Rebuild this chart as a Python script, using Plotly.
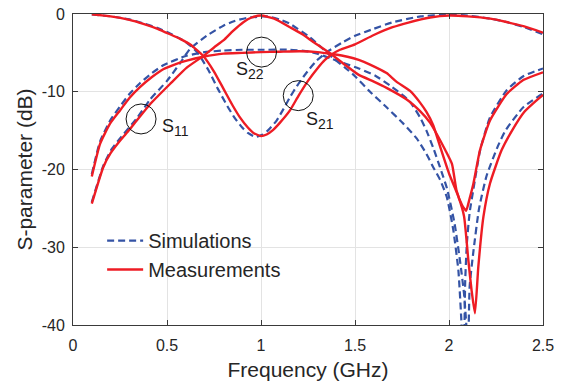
import plotly.graph_objects as go

# ---------------- data ----------------
x_ticks = [0, 0.5, 1, 1.5, 2, 2.5]
x_tick_labels = ["0", "0.5", "1", "1.5", "2", "2.5"]
y_ticks = [0, -10, -20, -30, -40]
y_tick_labels = ["0", "-10", "-20", "-30", "-40"]

# S21 measured / simulated
f_s21_meas = [0.1, 0.2, 0.3, 0.374, 0.45, 0.516, 0.57, 0.622, 0.693, 0.75, 0.8, 0.85, 0.888, 0.93, 0.96,
              1.0, 1.03, 1.06, 1.1, 1.154, 1.2, 1.25, 1.3, 1.34, 1.376, 1.42, 1.5, 1.6, 1.7, 1.784, 1.9,
              2.0, 2.1, 2.22, 2.3, 2.4, 2.5]
s21_meas = [-0.05, -0.3, -0.75, -1.26, -1.9, -2.6, -3.2, -3.9, -5.4, -7.4, -9.6, -11.8, -13.3, -14.6, -15.3,
            -15.7, -15.5, -15.0, -14.0, -12.4, -10.5, -8.6, -7.0, -5.9, -5.2, -4.6, -3.9, -2.7, -1.7, -1.1, -0.45,
            -0.2, -0.3, -0.6, -1.0, -1.6, -2.4]
f_s21_sim = [0.1, 0.2, 0.3, 0.374, 0.45, 0.516, 0.6, 0.66, 0.72, 0.77, 0.82, 0.858, 0.9, 0.93, 0.97,
             1.01, 1.04, 1.083, 1.12, 1.154, 1.19, 1.225, 1.26, 1.296, 1.35, 1.43, 1.5, 1.6, 1.695, 1.85,
             1.99, 2.1, 2.22, 2.3, 2.4, 2.5]
s21_sim = [-0.05, -0.3, -0.7, -1.2, -1.8, -2.5, -3.6, -4.9, -7.2, -9.6, -11.8, -13.3, -14.6, -15.3, -15.8,
           -15.5, -14.9, -13.7, -12.2, -10.7, -9.3, -8.1, -7.0, -6.0, -4.9, -3.7, -2.8, -1.9, -1.1, -0.3,
           -0.1, -0.2, -0.6, -1.0, -1.7, -2.6]

# S22 measured / simulated
f_s22_meas = [0.1, 0.144, 0.197, 0.25, 0.3, 0.356, 0.42, 0.48, 0.54, 0.605, 0.693, 0.8, 0.9, 1.0, 1.1, 1.207,
              1.3, 1.376, 1.46, 1.52, 1.58, 1.668, 1.72, 1.793, 1.846, 1.88, 1.916, 1.952, 2.0, 2.05, 2.08,
              2.103, 2.12, 2.138, 2.156, 2.183, 2.218, 2.28, 2.34, 2.4, 2.466, 2.5]
s22_meas = [-20.9, -16.7, -14.1, -12.4, -10.8, -9.4, -8.1, -7.1, -6.5, -6.0, -5.5, -5.1, -5.0, -4.9, -4.85, -4.8,
            -4.9, -5.15, -5.5, -5.9, -6.5, -7.6, -8.7, -9.9, -11.4, -12.6, -14.3, -17.0, -20.5, -23.5, -26.0,
            -31.7, -35.5, -38.5, -32.5, -26.1, -21.8, -17.5, -14.8, -12.6, -11.1, -10.4]
f_s22_sim = [0.1, 0.144, 0.2, 0.25, 0.3, 0.356, 0.42, 0.48, 0.6, 0.7, 0.8, 0.9, 1.0, 1.154, 1.25, 1.3, 1.38,
             1.45, 1.52, 1.606, 1.686, 1.757, 1.793, 1.846, 1.88, 1.916, 1.952, 1.99, 2.03, 2.06, 2.08, 2.092,
             2.1, 2.11, 2.13, 2.16, 2.2, 2.26, 2.3, 2.395, 2.5]
s22_sim = [-20.6, -16.4, -13.6, -11.9, -10.3, -8.9, -7.6, -6.6, -5.4, -4.9, -4.7, -4.6, -4.6, -4.6, -4.8, -5.1,
           -5.8, -6.4, -7.0, -7.9, -9.2, -10.5, -11.3, -13.3, -15.0, -17.2, -19.7, -22.5, -27.0, -32.0, -36.0,
           -40.0, -46.0, -35.0, -30.5, -25.0, -20.8, -17.0, -15.0, -12.0, -10.2]

# S11 measured / simulated
f_s11_meas = [0.1, 0.161, 0.2, 0.25, 0.3, 0.339, 0.41, 0.516, 0.605, 0.693, 0.75, 0.8, 0.85, 0.906, 0.95, 1.0,
              1.07, 1.154, 1.22, 1.278, 1.376, 1.45, 1.518, 1.6, 1.668, 1.775, 1.846, 1.9, 1.934, 1.98, 2.016,
              2.04, 2.07, 2.091, 2.11, 2.13, 2.165, 2.218, 2.307, 2.395, 2.5]
s11_meas = [-24.4, -19.7, -17.9, -16.3, -14.9, -13.7, -11.6, -9.0, -6.9, -5.4, -4.3, -3.4, -2.2, -1.05, -0.45, -0.2,
            -0.6, -1.7, -2.6, -3.6, -5.2, -6.6, -7.8, -8.7, -9.5, -11.0, -12.5, -14.0, -15.4, -17.5, -19.3,
            -22.7, -24.6, -25.3, -23.7, -21.8, -17.5, -13.7, -10.3, -8.5, -7.5]
f_s11_sim = [0.1, 0.16, 0.2, 0.25, 0.34, 0.41, 0.5, 0.57, 0.622, 0.711, 0.8, 0.86, 0.924, 1.03, 1.1, 1.154, 1.26,
             1.33, 1.38, 1.447, 1.5, 1.58, 1.668, 1.757, 1.828, 1.88, 1.916, 1.952, 1.988, 2.023, 2.05, 2.067,
             2.078, 2.086, 2.095, 2.11, 2.13, 2.165, 2.218, 2.307, 2.395, 2.5]
s11_sim = [-24.2, -19.6, -17.6, -16.0, -13.4, -11.0, -8.6, -6.3, -4.5, -2.8, -1.5, -0.9, -0.5, -0.3, -0.7, -1.26,
           -3.0, -4.5, -5.6, -6.9, -8.0, -10.0, -12.0, -14.1, -16.0, -18.0, -19.7, -21.3, -23.5, -27.8, -33.0,
           -40.0, -46.0, -34.5, -29.5, -25.5, -22.5, -17.6, -13.3, -9.8, -8.0, -7.0]

# marker circles and labels
circle_f = [0.362, 1.003, 1.198]
circle_db = [-13.5, -4.9, -10.5]
label_main = ["S", "S", "S"]
label_sub = ["11", "22", "21"]
label_f = [0.462, 0.858, 1.23]
label_db = [-14.6, -7.3, -13.7]

# ---------------- styling ----------------
RED = "#ee1c24"
BLUE = "#3453a5"
FONT = "Liberation Sans, Arial, Helvetica, sans-serif"
TXT = "#262626"

fig = go.Figure()

sims = [(f_s21_sim, s21_sim), (f_s22_sim, s22_sim), (f_s11_sim, s11_sim)]
meas = [(f_s21_meas, s21_meas), (f_s22_meas, s22_meas), (f_s11_meas, s11_meas)]

for i, (f, s) in enumerate(sims):
    fig.add_trace(go.Scatter(
        x=f, y=s, mode="lines", name="Simulations", legendgroup="sim", showlegend=(i == 0),
        line=dict(color=BLUE, width=2.2, dash="7px,4px", shape="spline", smoothing=0.5),
    ))
for i, (f, s) in enumerate(meas):
    fig.add_trace(go.Scatter(
        x=f, y=s, mode="lines", name="Measurements", legendgroup="meas", showlegend=(i == 0),
        line=dict(color=RED, width=2.4, shape="spline", smoothing=0.5),
    ))

for cx, cy in zip(circle_f, circle_db):
    fig.add_shape(type="circle", xref="x", yref="y", xsizemode="pixel", ysizemode="pixel",
                  xanchor=cx, yanchor=cy, x0=-15, x1=15, y0=-15, y1=15,
                  line=dict(color="#111111", width=1))

for m, sb, lx, ly in zip(label_main, label_sub, label_f, label_db):
    fig.add_annotation(x=lx, y=ly, xref="x", yref="y",
                       text=f"{m}<sub><span style='font-size:14px'>{sb}</span></sub>",
                       showarrow=False, xanchor="left", yanchor="middle",
                       font=dict(family=FONT, size=18, color="#1a1a1a"))

axis_common = dict(
    showgrid=True, gridcolor="#e3e3e3", gridwidth=1,
    showline=True, linecolor="#3a3a3a", linewidth=1, mirror="ticks",
    ticks="inside", ticklen=5, tickcolor="#3a3a3a", zeroline=False,
    tickfont=dict(family=FONT, size=16, color=TXT), ticklabeloverflow="allow",
    automargin=False,
)

fig.update_xaxes(range=[0, 2.5], tickvals=x_ticks, ticktext=x_tick_labels, ticklabelstandoff=6,
                 title=dict(text="Frequency (GHz)", font=dict(family=FONT, size=21, color=TXT), standoff=13),
                 **axis_common)
fig.update_yaxes(range=[-40, 0], tickvals=y_ticks, ticktext=y_tick_labels, ticklabelstandoff=4,
                 title=dict(text="S-parameter (dB)", font=dict(family=FONT, size=21, color=TXT), standoff=3),
                 **axis_common)

# the page body keeps an 8 px margin, so the figure is 16 px smaller than the window
fig.update_layout(
    width=548, height=373,
    margin=dict(l=65, r=13, t=6, b=56, pad=0, autoexpand=False),
    paper_bgcolor="white", plot_bgcolor="white",
    font=dict(family=FONT, color=TXT),
    showlegend=True,
    legend=dict(x=0.062, y=0.225, xanchor="left", yanchor="middle",
                bgcolor="rgba(0,0,0,0)", borderwidth=0,
                font=dict(family=FONT, size=20, color=TXT),
                itemwidth=36, tracegroupgap=0),
)

fig.write_html("out.html")
